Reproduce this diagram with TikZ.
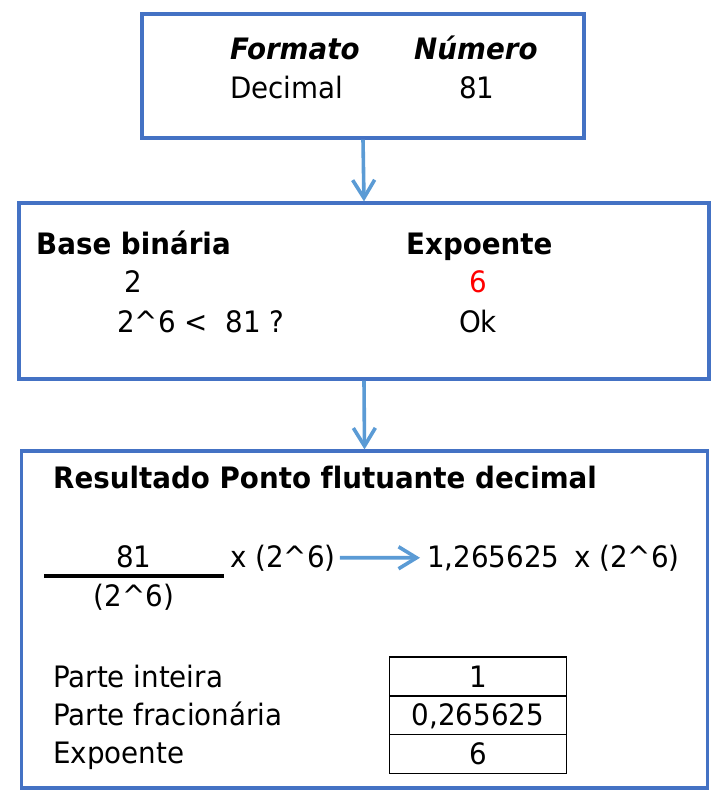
\documentclass[tikz,border=0pt]{standalone}
\usepackage{fontspec}
\setmainfont[Ligatures=NoCommon,FakeStretch=0.94]{DejaVu Sans}
\usetikzlibrary{arrows.meta,positioning}
\definecolor{boxblue}{HTML}{4472C4}
\definecolor{arrblue}{HTML}{5B9BD5}

\begin{document}
\begin{tikzpicture}[x=1pt,y=-1pt,
  box/.style={draw=boxblue,line width=3.2pt,inner sep=0pt},
  txt/.style={inner sep=0pt,font=\fontsize{29.5}{35}\selectfont},
  hdr/.style={txt,font=\fontsize{29.5}{35}\selectfont\bfseries},
  cell/.style={txt,draw,line width=1.4pt,outer sep=0pt,minimum width=177pt,minimum height=38.7pt,text height=21pt,text depth=0pt},
  arr/.style={-{Straight Barb[length=18pt,width=22pt]},draw=arrblue,line width=3.6pt}]
\useasboundingbox (0,0) rectangle (721,809);
% the three boxes
\node[box,minimum width=442pt,minimum height=124pt] (fmt) at (363,76) {};
\node[box,minimum width=690pt,minimum height=176pt] (base) at (364,291) {};
\node[box,minimum width=686pt,minimum height=337pt] (res) at (364.5,619.5) {};
\draw[arr] (fmt.south) -- (base.north);
\draw[arr] (base.south) -- (res.north);
% input
\node[hdr,font=\fontsize{29.5}{35}\selectfont\bfseries\itshape,anchor=base west] (fmtH) at (230,59) {Formato};
\node[hdr,font=\fontsize{29.5}{35}\selectfont\bfseries\itshape,anchor=base west] (numH) at (414,59) {Número};
\node[txt,anchor=base west] (fmtV) at (230,98) {Decimal};
\node[txt,anchor=base] (numV) at (477,98) {81};
% base and exponent
\node[hdr,anchor=base west] (baseH) at (36,254) {Base binária};
\node[hdr,anchor=base west] (expH) at (406,254) {Expoente};
\node[txt,anchor=base] (baseV) at (133,292) {2};
\node[txt,anchor=base,text=red] (expV) at (478,292) {6};
\node[txt,anchor=base west] (test) at (117,332) {2\textasciicircum6 <\hspace{0.6em}81 ?};
\node[txt,anchor=base] (ok) at (478,332) {Ok};
% result
\node[hdr,anchor=base west] (resH) at (53,488) {Resultado Ponto flutuante decimal};
\node[txt,anchor=base] (num) at (134,567) {81};
\node[txt,anchor=base] (den) at (134,606) {(2\textasciicircum6)};
\draw[line width=3.6pt] (44,576) -- (224,576);
\node[txt,anchor=base west] (mult) at (230,567) {x (2\textasciicircum6)};
\node[txt,anchor=base west] (mant) at (427,567) {1,265625};
\node[txt,anchor=base west] (mult2) at (574,567) {x (2\textasciicircum6)};
\draw[arr,shorten <=4pt,shorten >=7pt] (mult.east) -- (mant.west);
% parts
\node[txt,anchor=base west] (intL) at (53,687) {Parte inteira};
\node[txt,anchor=base west] (fracL) at (53,725) {Parte fracionária};
\node[txt,anchor=base west] (expL) at (53,763) {Expoente};
\node[cell] (intV) at (478,676.5) {1};
\node[cell,below=0pt of intV] (fracV) {0,265625};
\node[cell,below=0pt of fracV] (expV2) {6};
\end{tikzpicture}
\end{document}
